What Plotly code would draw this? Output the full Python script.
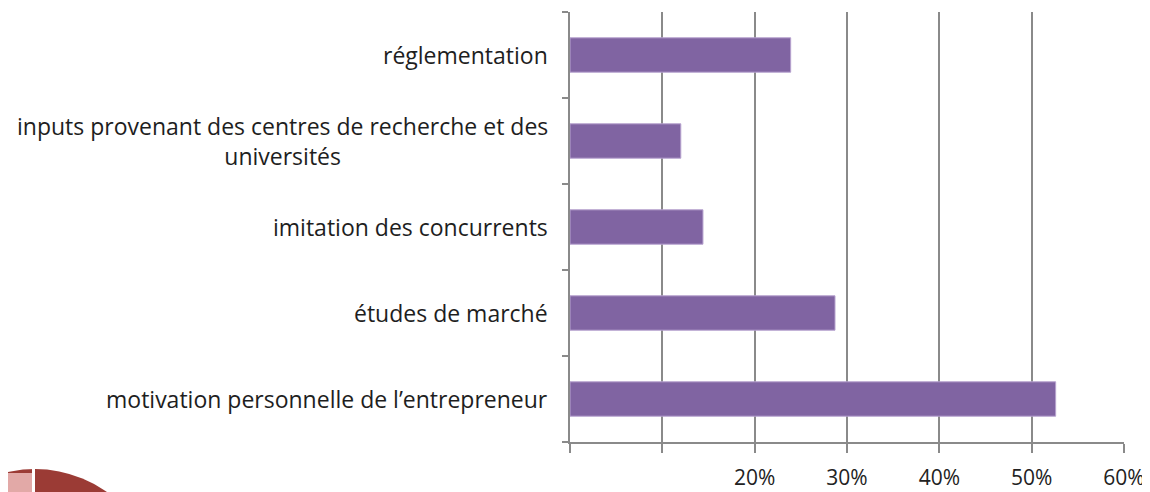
import plotly.graph_objects as go

# categories from bottom to top, as plotly draws them
categories = [
    "motivation personnelle de l\u2019entrepreneur",
    "études de marché",
    "imitation des concurrents",
    "inputs provenant des centres de recherche et des<br>universités",
    "réglementation",
]
shares = [0.526, 0.287, 0.144, 0.120, 0.239]

tick_vals = [0, 0.1, 0.2, 0.3, 0.4, 0.5, 0.6]
tick_text = ["", "", "20%", "30%", "40%", "50%", "60%"]  # first two hidden in the original

bar_purple = "#8064A2"
grid_grey = "#8a8a8a"
text_col = "#1e1e1e"
font_family = "Open Sans"

# the page body has an 8px margin, so the figure is 8px smaller each way
OFF = 8
W, H = 1150 - OFF, 492 - OFF
L, R, T, B = 570 - OFF, 26, 12 - OFF, 50


def px(x, y):
    # pixel position on the screenshot -> paper coordinates
    x, y = x - OFF, y - OFF
    return (x - L) / (W - L - R), (H - B - y) / (H - T - B)


bars = go.Bar(
    x=shares,
    y=categories,
    orientation="h",
    marker=dict(color=bar_purple, line=dict(color="#b7a3cf", width=1)),
    hoverinfo="x+y",
)

fig = go.Figure(data=[bars])

# category labels as annotations so the two-line one is centred
for cat in categories:
    fig.add_annotation(
        x=0, xref="paper", y=cat, yref="y",
        text=cat, showarrow=False,
        xanchor="right", xshift=-20, align="center",
        font=dict(family=font_family, size=23, color=text_col),
    )

# decoration in the bottom-left corner (slide background peeking in)
cx0, cy0 = px(35 - 124, 469)
cx1, cy1 = px(35 + 124, 469 + 248)
fig.add_shape(type="circle", xref="paper", yref="paper",
              x0=cx0, x1=cx1, y0=cy1, y1=cy0,
              fillcolor="#9b3b35", line=dict(width=0), layer="above")
gx0, gy0 = px(32, 460)
gx1, gy1 = px(35, 492)
fig.add_shape(type="rect", xref="paper", yref="paper",
              x0=gx0, x1=gx1, y0=gy1, y1=gy0,
              fillcolor="white", line=dict(width=0), layer="above")
rx0, ry0 = px(0, 473)
rx1, ry1 = px(32, 492)
fig.add_shape(type="rect", xref="paper", yref="paper",
              x0=rx0, x1=rx1, y0=ry1, y1=ry0,
              fillcolor="#e2a9a7", line=dict(width=0), layer="above")

fig.update_layout(
    width=W, height=H,
    margin=dict(l=L, r=R, t=T, b=B, autoexpand=False),
    paper_bgcolor="white",
    plot_bgcolor="white",
    bargap=0.6,
    showlegend=False,
    font=dict(family=font_family, size=21, color=text_col),
    xaxis=dict(
        range=[0, 0.6],
        tickvals=tick_vals,
        ticktext=tick_text,
        showgrid=True, gridcolor=grid_grey, gridwidth=1.5,
        showline=True, linecolor=grid_grey, linewidth=1.5,
        ticks="outside", ticklen=9, tickcolor=grid_grey, tickwidth=1.5,
        ticklabelstandoff=7,
        tickfont=dict(family=font_family, size=21, color="#222"),
        zeroline=False,
        automargin=False,
        fixedrange=True,
    ),
    yaxis=dict(
        showticklabels=False,
        showline=True, linecolor=grid_grey, linewidth=1.5,
        ticks="outside", ticklen=6, tickcolor=grid_grey, tickwidth=1.5,
        tickson="boundaries",
        showgrid=False,
        automargin=False,
        fixedrange=True,
    ),
)

fig.write_html("out.html")
